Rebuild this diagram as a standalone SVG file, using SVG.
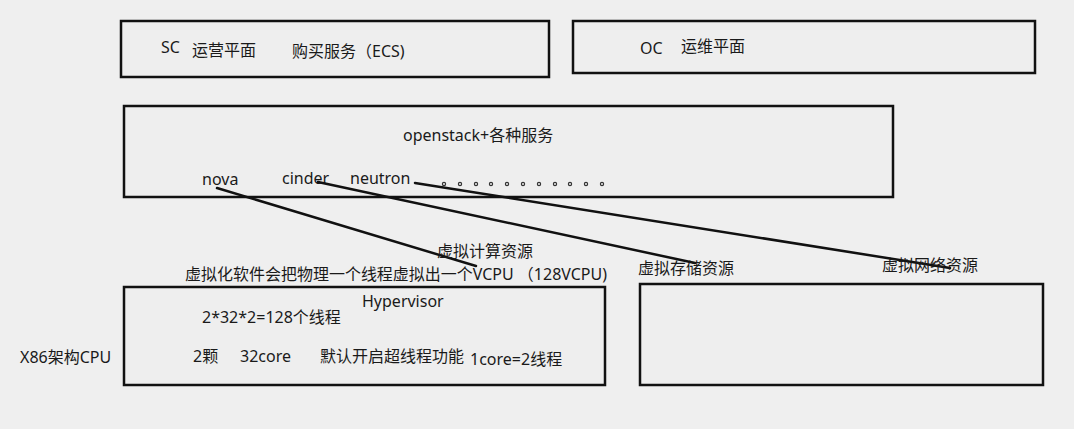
<svg xmlns="http://www.w3.org/2000/svg" width="1074" height="429" viewBox="0 0 1074 429">
<style>
.bx{fill:#eeeeee;stroke:#111;stroke-width:2.5}
.t{font-family:"Noto Sans","Noto Sans CJK SC",sans-serif;font-size:16px;fill:#1a1a1a}
.c{stroke:#111;stroke-width:2.5;fill:none;stroke-linecap:round}
.d{fill:none;stroke:#333;stroke-width:1.2}
</style>
<rect width="1074" height="429" fill="#efefef"/>
<g id="sc-plane">
<rect class="bx" x="121" y="21" width="428" height="56"/>
<text class="t" x="161" y="53">SC</text>
<text class="t" x="192" y="56">运营平面</text>
<text class="t" x="292" y="57">购买服务（ECS)</text>
</g>
<g id="oc-plane">
<rect class="bx" x="573" y="21" width="462" height="52"/>
<text class="t" x="640" y="54">OC</text>
<text class="t" x="681" y="52">运维平面</text>
</g>
<g id="openstack">
<rect class="bx" x="124" y="106" width="769" height="91"/>
<text class="t" x="403" y="141">openstack+各种服务</text>
<text class="t" x="202" y="185">nova</text>
<text class="t" x="282" y="184">cinder</text>
<text class="t" x="350" y="184">neutron</text>
<g id="dots">
<circle class="d" cx="444" cy="184" r="1.6"/>
<circle class="d" cx="460" cy="184" r="1.6"/>
<circle class="d" cx="476" cy="184" r="1.6"/>
<circle class="d" cx="491" cy="184" r="1.6"/>
<circle class="d" cx="507" cy="184" r="1.6"/>
<circle class="d" cx="523" cy="184" r="1.6"/>
<circle class="d" cx="539" cy="184" r="1.6"/>
<circle class="d" cx="555" cy="184" r="1.6"/>
<circle class="d" cx="570" cy="184" r="1.6"/>
<circle class="d" cx="586" cy="184" r="1.6"/>
<circle class="d" cx="602" cy="184" r="1.6"/>
</g>
</g>
<g id="connectors">
<line class="c" x1="217" y1="188" x2="476" y2="266"/>
<line class="c" x1="318" y1="182" x2="695" y2="263"/>
<line class="c" x1="415" y1="183" x2="950" y2="268"/>
</g>
<g id="labels">
<text class="t" x="437" y="257">虚拟计算资源</text>
<text class="t" x="185" y="280" textLength="422" lengthAdjust="spacingAndGlyphs">虚拟化软件会把物理一个线程虚拟出一个VCPU （128VCPU)</text>
<text class="t" x="638" y="274">虚拟存储资源</text>
<text class="t" x="882" y="271">虚拟网络资源</text>
</g>
<g id="hypervisor">
<rect class="bx" x="124" y="287" width="481" height="98"/>
<text class="t" x="362" y="307">Hypervisor</text>
<text class="t" x="202" y="323">2*32*2=128个线程</text>
<text class="t" x="193" y="362">2颗</text>
<text class="t" x="240" y="362">32core</text>
<text class="t" x="320" y="362">默认开启超线程功能</text>
<text class="t" x="470" y="365">1core=2线程</text>
</g>
<text class="t" x="20" y="363">X86架构CPU</text>
<g id="storage-net">
<rect class="bx" x="640" y="284" width="403" height="101"/>
</g>
</svg>
